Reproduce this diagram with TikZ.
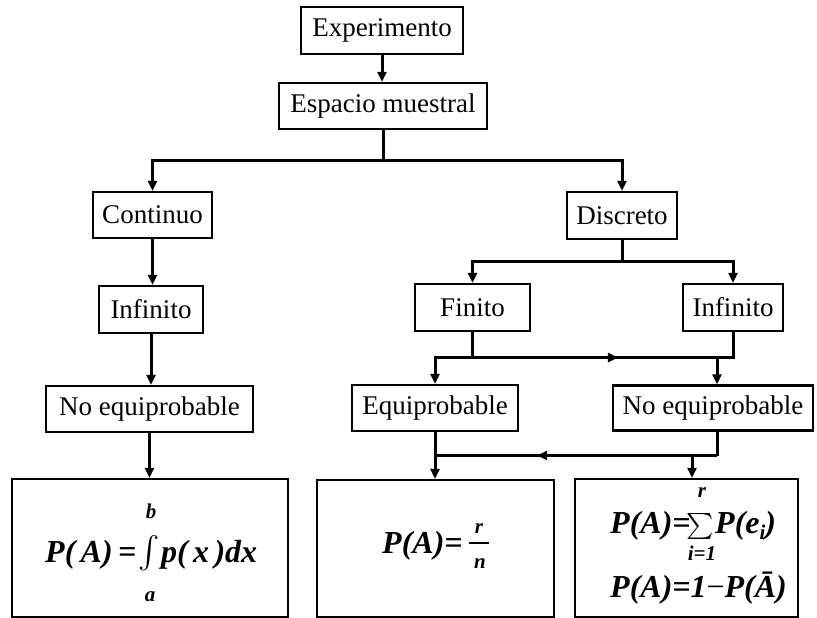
\documentclass[tikz,border=0pt]{standalone}
\usepackage{fontspec}
\usepackage{graphicx}
\setmainfont{Liberation Serif}
\usetikzlibrary{arrows.meta,decorations.markings}

% formula fonts
\newcommand\fmbig{\fontsize{32}{36}\selectfont\bfseries\itshape}
\newcommand\fmsmall{\fontsize{21}{23}\selectfont\bfseries\itshape}
% large operators, set at 10pt and enlarged
\newcommand\bigint{{\fontsize{10}{12}\selectfont\scalebox{3.2}{$\textstyle\int$}}}
\newcommand\bigsum{{\fontsize{10}{12}\selectfont\scalebox{2.6}{$\textstyle\sum$}}}

\begin{document}
\begin{tikzpicture}[x=1pt,y=-1pt,
  box/.style={draw, line width=2.2pt, inner sep=0pt, font=\fontsize{27}{30}\selectfont},
  conn/.style={line width=3pt},
  hd/.tip={Triangle[length=10pt,width=9pt]},
  arr/.style={conn,-hd},
  midarr/.style={conn, postaction=decorate,
    decoration={markings, mark=at position #1 with {\arrow{hd}}}},
  fm/.style={inner sep=0pt, font=\fmbig},
  fs/.style={inner sep=0pt, font=\fmsmall},
  op/.style={inner sep=0pt},
]
\useasboundingbox (0,0) rectangle (817,618);

% boxes
\node[box, minimum width=162pt, minimum height=47pt] (exp)   at (382,30.5)  {Experimento};
\node[box, minimum width=208pt, minimum height=46pt] (esp)   at (383,106)   {Espacio muestral};
\node[box, minimum width=119pt, minimum height=46pt] (cont)  at (152.5,215) {Continuo};
\node[box, minimum width=110pt, minimum height=47pt] (disc)  at (622,215.5) {Discreto};
\node[box, minimum width=104pt, minimum height=47pt] (infL)  at (151,309.5) {Infinito};
\node[box, minimum width=115pt, minimum height=47pt] (fin)   at (472.5,307.5) {Finito};
\node[box, minimum width=100pt, minimum height=47pt] (infR)  at (733,307.5) {Infinito};
\node[box, minimum width=207pt, minimum height=46pt] (noeqL) at (149.5,409) {No equiprobable};
\node[box, minimum width=166pt, minimum height=46pt] (equi)  at (435,408)   {Equiprobable};
\node[box, minimum width=200pt, minimum height=45pt] (noeqR) at (713,408)   {No equiprobable};
\node[box, minimum width=276pt, minimum height=138pt] (b1)   at (150,548)   {};
\node[box, minimum width=237pt, minimum height=137pt] (b2)   at (435.5,548.5) {};
\node[box, minimum width=223pt, minimum height=138pt] (b3)   at (686.5,548) {};

% junction points
\coordinate (j1) at (383,160);
\coordinate (j2) at (622,261);
\coordinate (h1) at (0,357.5);
\coordinate (t1) at (717,357.5);
\coordinate (h2) at (0,455.5);
\coordinate (t3) at (692,455.5);

% connectors
\draw[arr] (exp.south) -- (exp.south |- esp.north);
\draw[conn] (esp.south) -- (j1);
\draw[arr] (j1) -| (cont.north);
\draw[arr] (j1) -| (disc.north);

\draw[arr] (cont.south) -- (cont.south |- infL.north);
\draw[arr] (infL.south) -- (infL.south |- noeqL.north);
\draw[arr] (noeqL.south) -- (noeqL.south |- b1.north);

\draw[conn] (disc.south) -- (j2);
\draw[arr] (j2) -| (fin.north);
\draw[arr] (j2) -| (infR.north);

\draw[conn] (fin.south) -- (fin.south |- h1);
\draw[arr] (fin.south |- h1) -| (equi.north);
\draw[midarr=0.595] (fin.south |- h1) -- (t1);
\draw[conn] (infR.south) |- (t1);
\draw[arr] (t1) -- (t1 |- noeqR.north);

\draw[arr] (equi.south) -- (equi.south |- b2.north);
\draw[conn] (t1 |- noeqR.south) -- (t1 |- h2);
\draw[midarr=0.638] (t1 |- h2) -- (equi.south |- h2);
\draw[arr] (t3) -- (t3 |- b3.north);

% P(A) as an integral of the density
\node[fm, anchor=base west] (f1a) at (45,562) {P(\,A)\,=};
\node[op] (f1i) at (149,553) {\bigint};
\node[fs, anchor=base] (f1b) at (151,518) {b};
\node[fs, anchor=base] (f1l) at (150,601) {a};
\node[fm, anchor=base west] (f1c) at (161,562) {p(\,x\,)dx};

% P(A) = r/n
\node[fm, anchor=base west] (f2a) at (382,553) {P(A)=};
\node[fs, anchor=base] (f2r) at (479,533) {r};
\node[fs, anchor=base] (f2n) at (480,568) {n};
\draw[line width=1.2pt] (469,543) -- (489,543);

% P(A) as a sum and through the complement
\node[fm, anchor=base west] (f3a) at (610,533) {P(A)=};
\node[op] (f3s) at (700,526) {\bigsum};
\node[fs, anchor=base] (f3r) at (702,497) {r};
\node[fs, anchor=base] (f3l) at (702,560) {i=1};
\node[fm, anchor=base west] (f3b) at (715,533) {P(e\raisebox{-6pt}{\fmsmall i})};
\node[fm, anchor=base west] (f3c) at (610,597) {P(A)=1{\mdseries\upshape −}P(\=A)};
\end{tikzpicture}
\end{document}
